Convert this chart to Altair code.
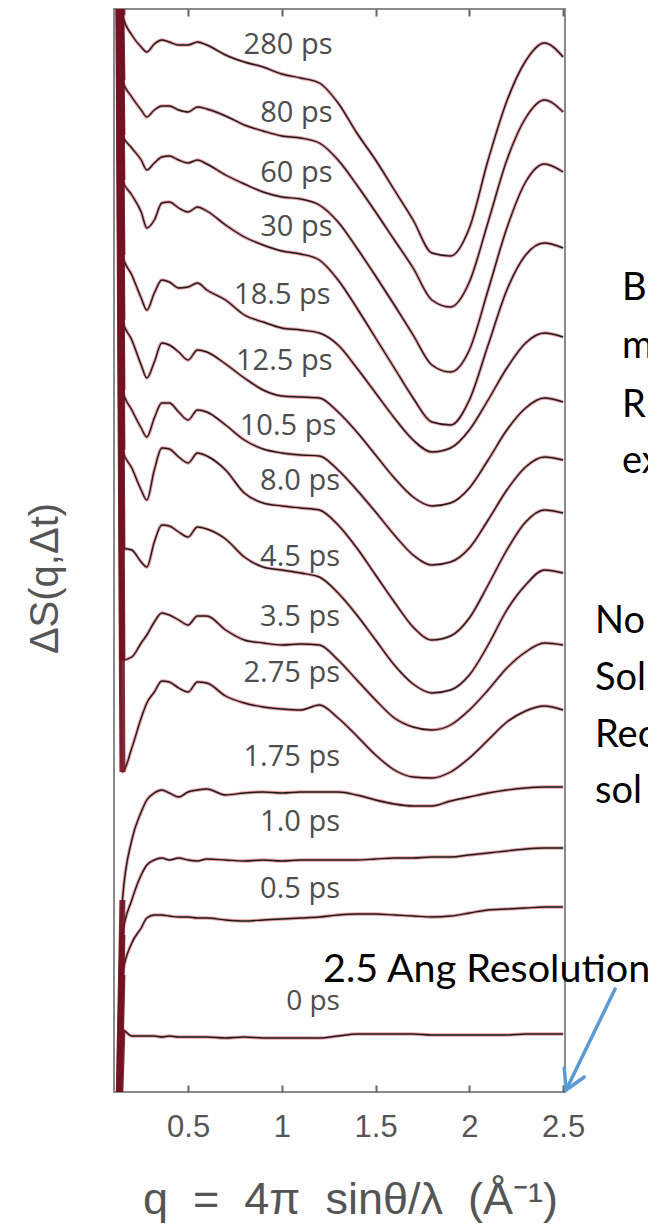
import altair as alt
import pandas as pd

# momentum transfer grid (1/Angstrom)
Q = [0.12, 0.15, 0.20, 0.25, 0.28, 0.32, 0.36, 0.40, 0.45, 0.50, 0.55, 0.60,
     0.70, 0.80, 0.90, 1.00, 1.10, 1.20, 1.30, 1.40, 1.50, 1.60, 1.70, 1.80,
     1.90, 2.00, 2.10, 2.20, 2.30, 2.40, 2.50]

DELAYS = ["280 ps", "80 ps", "60 ps", "30 ps", "18.5 ps", "12.5 ps", "10.5 ps",
          "8.0 ps", "4.5 ps", "3.5 ps", "2.75 ps", "1.75 ps", "1.0 ps", "0.5 ps", "0 ps"]

# difference signal, offset-stacked (arbitrary units)
S_280 = [1400, 1085, 1065, 1053, 1048, 1056, 1060, 1058, 1055, 1055, 1058, 1055, 1045, 1038, 1033, 1026, 1022, 1017, 997, 967, 940, 910, 880, 847, 844, 872, 940, 999, 1039, 1057, 1043]
S_80 = [1400, 1020, 1003, 990, 983, 990, 994, 994, 990, 988, 993, 991, 984, 975, 969, 964, 962, 957, 940, 915, 888, 860, 832, 800, 793, 818, 878, 940, 982, 1000, 988]
S_60 = [1400, 965, 952, 940, 930, 937, 943, 944, 940, 937, 940, 936, 925, 916, 908, 903, 901, 895, 878, 852, 824, 795, 765, 735, 728, 750, 810, 872, 918, 936, 928]
S_30 = [1400, 920, 905, 888, 872, 880, 897, 898, 892, 888, 893, 889, 875, 863, 855, 849, 846, 840, 820, 792, 762, 732, 702, 678, 675, 700, 755, 810, 845, 857, 852]
S_18_5 = [1400, 845, 825, 802, 790, 807, 820, 818, 812, 813, 817, 810, 800, 785, 778, 772, 770, 767, 755, 732, 707, 682, 660, 648, 652, 670, 700, 732, 757, 767, 763]
S_12_5 = [1400, 780, 760, 735, 722, 738, 757, 755, 748, 740, 750, 748, 736, 722, 710, 704, 703, 702, 688, 668, 645, 622, 603, 594, 597, 612, 640, 670, 692, 702, 698]
S_10_5 = [1400, 710, 690, 672, 663, 682, 697, 697, 688, 680, 690, 688, 675, 660, 651, 647, 645, 644, 630, 610, 588, 565, 545, 535, 538, 552, 580, 610, 633, 643, 640]
S_8_0 = [1400, 650, 632, 610, 600, 630, 652, 651, 643, 637, 647, 644, 630, 607, 597, 594, 592, 590, 575, 552, 525, 498, 473, 460, 464, 482, 515, 550, 578, 590, 587]
S_4_5 = [1400, 552, 550, 538, 533, 558, 575, 574, 568, 563, 573, 571, 561, 543, 533, 530, 527, 523, 507, 485, 460, 435, 416, 407, 410, 425, 455, 490, 515, 530, 527]
S_3_5 = [1400, 440, 443, 457, 465, 478, 487, 485, 480, 475, 484, 484, 470, 460, 457, 455, 456, 455, 440, 420, 400, 382, 373, 370, 375, 390, 410, 432, 448, 457, 455]
S_2_75 = [1400, 328, 352, 382, 397, 408, 419, 418, 412, 408, 418, 417, 404, 397, 393, 391, 390, 395, 382, 364, 345, 330, 323, 322, 328, 342, 360, 378, 389, 394, 390]
S_1_75 = [-100, 200, 260, 288, 300, 307, 310, 307, 303, 308, 310, 311, 305, 307, 308, 307, 308, 308, 308, 305, 300, 296, 294, 294, 299, 303, 307, 310, 312, 313, 313]
S_1_0 = [-100, 165, 200, 225, 235, 240, 242, 240, 242, 240, 239, 241, 240, 239, 240, 239, 240, 240, 240, 240, 241, 242, 242, 243, 243, 245, 247, 249, 251, 252, 252]
S_0_5 = [-100, 125, 157, 172, 182, 185, 185, 184, 183, 183, 182, 182, 180, 179, 180, 181, 182, 183, 185, 186, 186, 185, 184, 183, 184, 187, 190, 191, 192, 193, 193]
S_0 = [-100, 70, 64, 64, 64, 64, 63, 64, 63, 63, 63, 63, 62, 63, 62, 62, 62, 62, 64, 66, 66, 66, 66, 65, 65, 65, 65, 65, 66, 66, 66]

SERIES = [S_280, S_80, S_60, S_30, S_18_5, S_12_5, S_10_5, S_8_0, S_4_5, S_3_5,
          S_2_75, S_1_75, S_1_0, S_0_5, S_0]

# curve labels: right edge q, level, font size
LABEL_Q = [1.27, 1.27, 1.27, 1.27, 1.26, 1.27, 1.29, 1.31, 1.31, 1.31, 1.31, 1.31, 1.31, 1.31, 1.31]
LABEL_V = [1055, 987, 927, 873, 805, 739, 674, 619, 543, 483, 427, 343, 278, 211, 98]
LABEL_SIZE = [29, 29, 29, 29, 29, 29, 29, 29, 29, 29, 29, 29, 29, 29, 28]

X_TICKS = [0.5, 1, 1.5, 2, 2.5]

rows = []
for name, vals in zip(DELAYS, SERIES):
    for q, v in zip(Q, vals):
        rows.append({"delay": name, "q": q, "v": v})
df = pd.DataFrame(rows)

lab = pd.DataFrame({"q": LABEL_Q, "v": LABEL_V, "label": DELAYS, "fs": LABEL_SIZE})

xs = alt.Scale(domain=[0.105, 2.51], nice=False, zero=False)
ys = alt.Scale(domain=[8, 1091], nice=False, zero=False)

# fits (red) under the data (black)
red = alt.Chart(df).mark_line(color="#d8404f", strokeWidth=3.4, opacity=0.5, clip=True,
                              interpolate="monotone").encode(
    x=alt.X("q:Q", scale=xs, axis=alt.Axis(orient="top", labels=False, domain=False, grid=False,
                                           ticks=True, tickSize=7, offset=-7, values=X_TICKS,
                                           tickColor="#666", tickWidth=2, title=None)),
    y=alt.Y("v:Q", scale=ys, axis=None),
    detail="delay:N",
)

black = alt.Chart(df).mark_line(color="#1c1c1c", strokeWidth=1.4, clip=True,
                                interpolate="monotone").encode(
    x=alt.X("q:Q", scale=xs, axis=alt.Axis(
        orient="bottom", values=X_TICKS, labelExpr="datum.value", ticks=False, tickSize=0,
        domain=False, grid=False, labelFont="Liberation Sans", labelFontSize=31,
        labelColor="#555555", labelPadding=20,
        title="q\u00a0 = \u00a04π\u00a0 sinθ/λ\u00a0 (Å⁻¹)", titleFont="Liberation Sans",
        titleFontSize=45, titleFontWeight="normal", titleColor="#555555",
        titleBaseline="alphabetic", titleX=236, titleY=121)),
    y=alt.Y("v:Q", scale=ys, axis=alt.Axis(
        labels=False, ticks=False, domain=False, grid=False,
        title="ΔS(q,Δt)", titleFont="Liberation Sans", titleFontSize=40,
        titleFontWeight="normal", titleColor="#555555", titleAngle=270,
        titleX=-69, titleY=569, titleBaseline="middle", titleAlign="center")),
    detail="delay:N",
)

# low-q divergence of all curves forms a dark red band at the left edge
band = alt.Chart(df).transform_filter(alt.datum.q <= 0.15).mark_line(
    color="#731322", strokeWidth=6, opacity=0.9, clip=True).encode(
    x=alt.X("q:Q", scale=xs, axis=None),
    y=alt.Y("v:Q", scale=ys, axis=None),
    detail="delay:N",
)

labels = alt.Chart(lab).mark_text(align="right", baseline="middle", font="Open Sans",
                                  color="#4d4d4d").encode(
    x=alt.X("q:Q", scale=xs, axis=alt.Axis(orient="bottom", labels=False, domain=False,
                                           grid=False, ticks=True, tickSize=7, offset=-7,
                                           values=X_TICKS, tickColor="#666", tickWidth=2,
                                           title=None)),
    y=alt.Y("v:Q", scale=ys, axis=None),
    text="label:N",
    size=alt.Size("fs:Q", scale=None),
)

# annotation arrow (blue) pointing at the 2.5 tick
ARROW = pd.DataFrame({
    "q": [2.777, 2.516, 2.516],
    "v": [111, 10, 10],
    "q2": [2.516, 2.506, 2.613],
    "v2": [10, 32, 23],
})
arrow = alt.Chart(ARROW).mark_rule(color="#5b9bd5", strokeWidth=3.5, strokeCap="round").encode(
    x=alt.X("q:Q", scale=xs, axis=None), y=alt.Y("v:Q", scale=ys, axis=None),
    x2="q2:Q", y2="v2:Q",
)

NOTE_TEXT = ["B", "m", "R", "ex", "No", "Sol", "Rec", "sol", "2.5 Ang Resolution"]
NOTE_X = [508, 508, 508, 508, 481, 481, 481, 481, 209]
NOTE_Y = [291, 349, 408, 464, 624, 681, 738, 794, 973]
NOTE_SIZE = [38, 38, 38, 38, 38, 38, 38, 38, 39.5]
notes = []
for t, nx, ny, fs in zip(NOTE_TEXT, NOTE_X, NOTE_Y, NOTE_SIZE):
    notes.append(alt.Chart(pd.DataFrame({"t": [t]})).mark_text(
        align="left", baseline="alphabetic", font="Lato", fontSize=fs, color="#000000").encode(
        x=alt.value(nx), y=alt.value(ny), text="t:N"))

chart = alt.layer(red, black, band, labels, arrow, *notes).resolve_axis(
    x="independent", y="independent"
).properties(
    width=451, height=1083,
    autosize=alt.AutoSizeParams(type="none"),
    padding={"left": 114, "top": 9, "right": 83, "bottom": 133},
    background="white",
).configure_view(stroke="#8a8a8a", strokeWidth=2)

chart.save("out.html", embed_options={"renderer": "svg", "actions": False})
